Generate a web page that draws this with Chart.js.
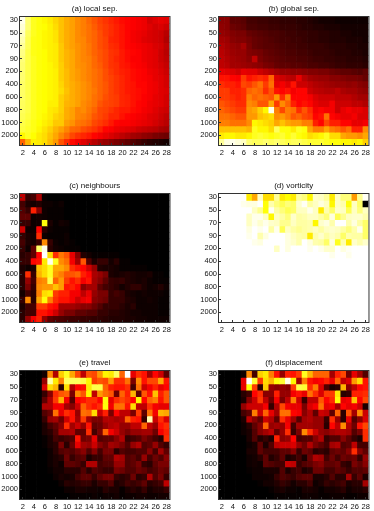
<!DOCTYPE html>
<html>
<head>
<meta charset="utf-8">
<title>Heatmaps</title>
<script src="https://cdn.jsdelivr.net/npm/chart.js@4"></script>
<style>
  html, body { margin: 0; padding: 0; background: #fff; }
  #page { position: relative; width: 374px; height: 511px; overflow: hidden; filter: blur(0.4px); }
  canvas { position: absolute; }
</style>
</head>
<body>
<div id="page"></div>
<script>
// x categories, one column per value
const xLabels = ['2','3','4','5','6','7','8','9','10','11','12','13','14','15','16','17','18','19','20','21','22','23','24','25','26','27','28'];
// y axis only labels every second row
const yLabels = ['30','50','70','90','200','400','600','800','1000','2000'];
const rowCount = 20;

const localSep = [
  [98,86,78,76,74,72,69,66,63,61,58,56,53,50,47,45,43,41,39,38,37,36,35,31,33,34,33],
  [96,86,78,76,75,73,70,66,63,61,58,56,54,51,48,46,44,42,40,38,37,36,35,33,31,32,30],
  [94,84,78,76,74,73,71,66,63,61,58,56,54,52,49,46,44,42,40,38,36,35,34,32,31,30,27],
  [92,83,77,76,74,73,71,66,63,61,58,57,54,52,49,47,43,42,40,38,36,35,33,32,31,30,26],
  [90,83,77,76,74,73,72,67,63,61,59,57,55,52,49,47,44,43,40,38,37,36,35,34,32,31,28],
  [88,82,77,76,75,73,72,67,64,62,59,57,55,52,50,48,45,44,41,39,38,37,35,34,33,30,27],
  [87,82,78,76,75,73,72,67,64,62,59,57,56,53,50,48,45,43,41,39,37,37,35,34,33,30,28],
  [86,82,78,76,75,74,72,68,64,62,59,58,56,53,51,48,45,44,41,40,38,37,36,34,33,31,29],
  [86,82,78,76,75,74,73,68,65,62,60,58,56,54,52,49,46,44,42,41,39,38,37,35,34,32,30],
  [86,82,78,76,75,74,73,68,65,62,60,58,56,54,52,49,47,45,43,41,39,38,37,36,34,33,31],
  [85,82,78,76,75,74,73,69,65,63,61,59,57,54,52,50,47,45,43,41,40,38,38,36,35,33,31],
  [85,82,78,76,75,74,73,70,66,63,61,59,57,55,52,50,47,45,43,41,40,39,38,36,35,33,32],
  [85,82,78,76,75,74,73,68,65,63,61,59,57,54,52,49,47,46,43,42,40,39,37,36,34,33,31],
  [84,82,78,76,75,73,73,68,64,63,61,58,56,54,50,48,47,46,43,42,40,38,37,35,34,33,31],
  [84,82,78,76,75,72,71,68,63,61,57,58,55,52,48,47,45,43,41,41,39,38,36,35,33,31,30],
  [83,81,78,76,74,72,69,67,63,61,57,56,54,50,48,46,43,43,40,38,37,36,35,33,32,30,28],
  [82,80,77,75,73,71,67,67,61,59,55,54,52,48,46,44,41,38,37,37,36,35,34,33,31,29,27],
  [81,79,77,74,71,68,64,61,57,53,52,49,47,45,42,38,37,35,34,33,32,30,29,28,27,25,24],
  [74,78,75,72,70,66,62,57,53,48,45,43,41,38,36,34,32,30,28,26,24,23,21,20,18,17,16],
  [52,64,73,72,70,65,60,50,44,39,36,33,30,27,24,22,20,18,16,14,12,10,8,6,5,4,3]
];
const globalSep = [
  [20,20,14,14,13,10,10,9,9,8,8,7,7,7,6,6,5,4,3,3,3,2,2,2,2,2,2],
  [21,20,16,15,14,11,11,10,10,9,9,8,8,8,7,6,6,5,5,4,4,4,3,3,3,3,3],
  [22,21,19,18,18,15,14,13,12,11,11,10,9,9,8,8,7,7,6,6,5,5,4,4,3,3,3],
  [24,23,20,19,19,17,15,14,13,12,11,10,10,9,9,8,7,7,6,6,5,5,5,4,4,4,3],
  [26,24,22,21,24,18,15,14,13,13,12,11,10,10,9,9,8,8,8,7,6,6,6,5,5,4,4],
  [27,25,23,22,22,19,18,17,15,14,13,12,11,11,10,10,9,8,8,8,7,6,6,6,5,5,4],
  [28,26,24,23,22,20,28,18,16,15,14,13,12,12,11,11,10,9,9,8,8,7,7,6,6,6,5],
  [28,27,24,24,23,22,21,20,18,17,15,14,14,13,13,12,11,11,10,10,9,8,8,7,7,7,6],
  [34,33,32,30,34,33,33,30,28,26,24,22,22,21,21,20,19,19,18,18,16,15,14,14,13,12,14],
  [40,40,38,37,46,40,42,44,42,52,32,30,28,27,34,27,24,23,22,22,20,20,19,18,18,17,15],
  [44,42,42,40,48,46,50,54,46,54,34,36,33,40,30,30,28,26,25,24,23,22,22,21,22,20,19],
  [46,46,42,42,44,52,54,52,44,50,40,38,40,36,38,38,30,28,27,26,26,28,25,24,24,22,21],
  [46,46,44,42,44,56,52,54,52,50,60,44,56,38,38,38,36,32,30,30,30,28,28,28,26,24,24],
  [50,48,46,44,44,58,56,50,50,62,46,58,52,42,38,40,38,34,32,32,36,30,30,30,28,28,26],
  [52,50,48,46,46,60,62,68,74,98,56,48,56,54,44,50,44,36,38,36,36,30,34,36,34,34,32],
  [54,54,52,50,50,60,60,66,68,70,58,60,56,50,52,48,46,38,40,54,38,36,34,34,36,32,32],
  [56,56,54,54,54,58,74,72,70,68,62,66,62,60,60,56,56,42,38,48,42,42,38,38,34,34,36],
  [66,66,66,66,66,64,78,74,74,70,84,76,76,72,78,76,62,56,56,62,56,54,50,54,42,42,58],
  [72,74,74,72,72,74,78,80,78,76,78,80,76,80,76,74,70,72,74,78,70,70,62,60,60,58,62],
  [90,97,98,96,94,86,84,84,86,84,86,84,82,84,84,82,80,80,80,78,76,76,74,74,72,74,68]
];
const neighbours = [
  [28,8,10,25,1,0,0,0,0,0,0,0,0,0,0,0,0,0,0,0,0,0,0,0,0,0,0],
  [10,4,3,5,2,2,1,2,0,0,0,0,0,0,0,0,0,0,0,0,0,0,0,0,0,0,0],
  [12,8,42,20,2,1,1,1,0,0,0,0,0,0,0,0,0,0,0,0,0,0,0,0,0,0,0],
  [14,14,2,3,2,1,1,1,0,0,0,0,0,0,0,0,0,0,0,0,0,0,0,0,0,0,0],
  [8,8,2,3,76,4,1,3,2,0,0,0,0,0,0,0,0,0,0,0,0,0,0,0,0,0,0],
  [30,2,2,38,6,2,1,1,1,0,0,0,0,0,0,0,0,0,0,0,0,0,0,0,0,0,0],
  [8,4,3,44,2,1,1,1,2,0,0,0,0,0,0,0,0,0,0,0,0,0,0,0,0,0,0],
  [10,4,3,8,58,8,2,1,2,1,0,0,0,0,0,0,0,0,0,0,0,0,0,0,0,0,0],
  [8,2,14,85,98,6,3,2,1,1,1,0,0,0,0,0,0,0,0,0,0,0,0,0,0,0,0],
  [6,8,14,38,100,70,44,55,50,34,20,5,3,1,1,1,1,1,0,0,0,0,0,0,0,0,0],
  [8,8,38,40,72,98,78,58,54,36,24,50,12,4,8,8,3,6,1,1,0,0,0,0,0,0,0],
  [4,2,4,66,70,78,62,62,58,44,40,38,30,22,5,4,4,3,1,1,1,1,1,0,0,0,0],
  [6,44,8,64,70,78,60,56,50,50,52,42,38,25,22,18,4,3,4,5,4,3,3,4,1,1,0],
  [6,22,10,56,58,82,52,60,46,40,44,36,40,24,20,14,8,7,8,5,4,3,4,2,1,1,1],
  [6,18,8,58,60,60,66,60,40,42,38,20,24,24,14,10,8,6,3,5,7,7,4,2,3,5,2],
  [3,10,6,56,70,72,46,42,42,36,36,28,34,22,18,18,8,10,8,4,3,2,3,2,2,2,1],
  [8,58,6,62,76,56,44,40,40,36,30,34,36,20,18,16,8,8,8,5,4,2,2,3,2,1,1],
  [4,10,10,46,46,40,38,24,24,24,22,20,20,16,12,8,8,8,6,4,6,2,2,2,2,1,1],
  [6,10,10,40,40,36,30,22,18,18,14,14,12,12,8,8,6,6,5,4,3,3,2,2,2,1,1],
  [6,22,36,42,22,14,12,11,10,9,9,8,8,7,7,6,5,5,5,4,4,3,3,2,2,2,2]
];
const vorticity = [
  [100,100,100,100,100,72,62,94,70,70,90,72,75,72,90,87,74,95,94,90,72,94,87,87,60,89,99],
  [100,100,100,100,98,97,97,100,76,92,87,83,87,85,95,99,91,94,97,94,74,94,92,76,94,85,0],
  [100,100,100,100,100,100,94,89,76,99,91,87,83,85,94,94,98,94,72,92,85,95,94,83,94,87,94],
  [100,100,100,100,100,94,98,98,94,74,94,91,87,95,91,92,94,94,91,87,97,83,89,94,95,95,92],
  [100,100,100,100,100,94,98,95,98,95,94,89,89,94,91,91,92,74,95,97,92,100,100,92,97,91,85],
  [100,100,100,100,100,97,100,98,100,91,98,83,94,91,89,91,92,94,91,94,95,94,91,87,92,98,85],
  [100,100,100,100,100,98,100,92,97,100,100,100,97,94,92,91,72,92,95,91,94,92,85,92,91,91,85],
  [100,100,100,100,100,100,98,97,100,100,100,100,97,95,92,100,97,92,91,85,97,78,92,72,95,92,95],
  [100,100,100,100,100,100,100,100,100,100,94,100,97,100,100,100,98,100,98,95,95,100,97,99,100,100,100],
  [100,100,100,100,100,100,100,100,100,100,100,100,100,100,100,100,100,100,100,100,98,100,100,98,100,100,100],
  [100,100,100,100,100,100,100,100,100,100,100,100,100,100,100,100,100,100,100,100,100,100,100,100,100,100,100],
  [100,100,100,100,100,100,100,100,100,100,100,100,100,100,100,100,100,100,100,100,100,100,100,100,100,100,100],
  [100,100,100,100,100,100,100,100,100,100,100,100,100,100,100,100,100,100,100,100,100,100,100,100,100,100,100],
  [100,100,100,100,100,100,100,100,100,100,100,100,100,100,100,100,100,100,100,100,100,100,100,100,100,100,100],
  [100,100,100,100,100,100,100,100,100,100,100,100,100,100,100,100,100,100,100,100,100,100,100,100,100,100,100],
  [100,100,100,100,100,100,100,100,100,100,100,100,100,100,100,100,100,100,100,100,100,100,100,100,100,100,100],
  [100,100,100,100,100,100,100,100,100,100,100,100,100,100,100,100,100,100,100,100,100,100,100,100,100,100,100],
  [100,100,100,100,100,100,100,100,100,100,100,100,100,100,100,100,100,100,100,100,100,100,100,100,100,100,100],
  [100,100,100,100,100,100,100,100,100,100,100,100,100,100,100,100,100,100,100,100,100,100,100,100,100,100,100],
  [100,100,100,100,100,100,100,100,100,100,100,100,100,100,100,100,100,100,100,100,100,100,100,100,100,100,100]
];
const travel = [
  [0,0,0,0,3,58,26,68,78,62,48,28,50,48,60,74,72,84,52,100,34,44,40,24,38,30,14],
  [0,0,0,0,22,92,72,56,84,84,84,82,74,46,50,48,60,44,44,54,18,58,40,48,48,62,40],
  [0,0,0,0,32,70,64,6,70,26,38,40,72,82,82,52,42,40,40,44,10,54,30,36,42,34,38],
  [0,0,0,0,8,20,44,50,52,18,58,50,74,28,60,54,50,16,52,42,64,14,50,40,66,42,50],
  [0,0,0,0,14,26,46,64,36,12,38,40,44,44,38,76,34,44,48,44,38,74,38,52,56,40,50],
  [0,0,0,0,26,26,36,36,24,20,30,52,44,40,44,76,36,54,54,40,70,28,28,44,36,34,34],
  [0,0,0,0,12,16,54,34,44,40,22,54,52,70,30,42,18,38,28,28,18,46,14,54,36,64,62],
  [0,0,0,0,8,22,24,16,30,40,24,46,24,18,18,26,26,24,26,52,42,40,8,92,30,44,32],
  [0,0,0,0,4,10,14,20,44,24,30,22,40,14,16,22,26,28,22,22,28,28,52,28,22,40,44],
  [0,0,0,0,4,6,12,24,24,26,14,14,44,10,18,52,36,30,22,18,22,22,24,24,16,36,42],
  [0,0,0,0,1,4,10,8,10,12,40,16,18,34,12,14,14,20,26,8,10,12,18,14,10,6,44],
  [0,0,0,0,1,4,6,18,6,16,34,24,22,30,20,16,24,22,18,12,22,26,12,14,22,12,8],
  [0,0,0,0,0,2,6,12,14,12,16,20,12,20,10,18,18,6,12,10,10,12,12,20,10,24,14],
  [0,0,0,0,0,2,4,6,16,8,12,14,4,8,8,14,14,26,24,12,14,10,22,10,16,12,20],
  [0,0,0,0,0,2,4,2,14,14,12,8,26,26,10,12,12,22,22,12,14,18,8,6,14,18,18],
  [0,0,0,0,0,1,3,3,6,6,6,12,6,12,10,8,8,18,16,12,12,16,14,10,12,16,14],
  [0,0,0,0,0,0,2,4,3,4,10,14,14,8,14,18,18,8,6,8,16,6,8,26,12,18,8],
  [0,0,0,0,0,0,0,2,6,5,6,8,8,4,8,8,12,4,6,10,8,10,14,6,8,10,28],
  [0,0,0,0,0,0,0,0,2,2,4,4,3,3,2,6,4,4,1,4,6,4,8,3,5,5,8],
  [0,0,0,0,0,0,0,0,0,1,1,1,1,2,1,2,2,3,1,2,2,3,3,2,2,3,3]
];
const displacement = [
  [0,0,0,0,2,58,10,68,72,56,40,22,42,40,46,78,64,52,52,52,24,42,48,16,34,24,12],
  [0,0,0,0,34,100,80,46,70,64,76,80,98,74,24,56,40,36,38,42,34,52,28,32,60,70,40],
  [0,0,0,0,34,76,46,6,68,22,20,22,20,46,82,80,44,56,32,12,4,6,64,20,28,38,40],
  [0,0,0,0,6,10,38,44,20,20,42,22,22,36,40,34,54,44,32,46,46,72,6,8,42,42,44],
  [0,0,0,0,4,20,30,46,28,16,36,18,28,56,30,8,28,28,50,38,44,76,34,36,66,38,48],
  [0,0,0,0,22,30,30,30,36,8,26,48,36,34,34,18,32,36,54,34,36,24,38,34,36,30,4],
  [0,0,0,0,10,14,56,30,52,34,24,54,54,38,36,20,26,14,30,28,14,52,6,50,24,58,30],
  [0,0,0,0,4,28,20,14,30,26,14,44,34,24,12,24,26,22,22,8,44,22,6,34,12,20,32],
  [0,0,0,0,2,6,14,20,52,22,24,22,36,10,24,24,24,22,22,6,38,28,58,26,16,40,48],
  [0,0,0,0,2,4,12,20,24,28,14,22,44,8,18,58,44,30,22,20,24,26,26,24,12,18,44],
  [0,0,0,0,0,4,12,5,8,4,42,20,22,38,10,12,12,20,26,8,12,12,20,14,8,4,44],
  [0,0,0,0,0,2,4,14,4,12,28,30,30,32,22,16,26,18,14,10,24,26,12,14,28,10,10],
  [0,0,0,0,0,4,4,14,10,10,10,14,14,20,8,16,14,6,8,6,14,16,14,20,44,20,14],
  [0,0,0,0,0,2,3,6,14,5,8,14,4,6,10,4,16,26,24,10,16,10,16,14,16,8,22],
  [0,0,0,0,0,2,3,2,14,12,10,10,30,28,8,12,14,18,20,14,14,16,8,6,18,14,20],
  [0,0,0,0,0,1,2,2,4,4,4,12,4,8,10,4,6,16,16,10,10,14,12,8,12,12,14],
  [0,0,0,0,0,0,2,2,2,3,8,12,10,8,12,14,14,4,4,6,12,6,6,24,8,14,4],
  [0,0,0,0,0,0,0,1,3,3,5,8,6,3,6,6,10,2,4,8,6,8,10,4,6,6,24],
  [0,0,0,0,0,0,0,0,0,1,3,4,2,2,1,4,4,3,1,3,3,4,6,2,4,4,6],
  [0,0,0,0,0,0,0,0,0,0,1,1,1,1,1,2,2,2,1,1,2,2,2,1,1,2,2]
];

[localSep, globalSep, neighbours, vorticity, travel, displacement].forEach(m => {
  if (m.length !== rowCount || m.some(r => r.length !== xLabels.length)) {
    throw new Error('bad matrix size: ' + m.map(r => r.length).join(','));
  }
});

const tickFont = { family: '"Liberation Sans", Arial, sans-serif', size: 7.5 };
const titleFont = { family: '"Liberation Sans", Arial, sans-serif', size: 8, weight: 'normal' };

// matlab style hot colormap
function hot(v) {
  const t = v / 100;
  const clamp = n => Math.max(0, Math.min(1, n));
  const r = clamp(t / 0.375);
  const g = clamp((t - 0.375) / 0.375);
  const b = clamp((t - 0.75) / 0.25);
  return `rgb(${Math.round(r * 255)},${Math.round(g * 255)},${Math.round(b * 255)})`;
}

const framePlugin = {
  id: 'frame',
  afterDraw(chart) {
    const a = chart.chartArea;
    const c = chart.ctx;
    c.save();
    c.strokeStyle = '#333';
    c.lineWidth = 1;
    c.strokeRect(a.left - 0.5, a.top - 0.5, a.right - a.left + 1, a.bottom - a.top + 1);
    c.restore();
  }
};

function drawPanel(title, matrix, left, top) {
  const canvas = document.createElement('canvas');
  canvas.width = 176;
  canvas.height = 159;
  canvas.style.left = left + 'px';
  canvas.style.top = top + 'px';
  document.getElementById('page').appendChild(canvas);

  // one stacked dataset per row, top row first because y is reversed
  const datasets = matrix.map(row => ({
    data: row.map(() => 1),
    backgroundColor: row.map(hot),
    borderWidth: 0,
    barPercentage: 1,
    categoryPercentage: 1
  }));

  new Chart(canvas, {
    type: 'bar',
    data: { labels: xLabels, datasets },
    plugins: [framePlugin],
    options: {
      responsive: false,
      animation: false,
      events: [],
      layout: { autoPadding: false, padding: { right: 5 } },
      plugins: {
        legend: { display: false },
        tooltip: { enabled: false },
        title: {
          display: true,
          text: title,
          color: '#111',
          fullSize: false,
          font: titleFont,
          padding: { top: 3.7, bottom: 3.7 }
        }
      },
      scales: {
        x: {
          stacked: true,
          border: { display: false },
          grid: { display: true, drawOnChartArea: false, offset: false, tickLength: -2, tickColor: '#333', z: 1 },
          ticks: { autoSkip: false, maxRotation: 0, minRotation: 0, padding: 5, color: '#111', font: tickFont },
          afterBuildTicks: s => { s.ticks = s.ticks.filter(t => t.value % 2 === 0); },
          afterFit: s => { s.height = 14; }
        },
        y: {
          stacked: true,
          reverse: true,
          min: 0,
          max: rowCount,
          border: { display: false },
          grid: { display: true, drawOnChartArea: false, tickLength: -2, tickColor: '#333', z: 1 },
          ticks: {
            autoSkip: false,
            padding: 4,
            color: '#111',
            font: tickFont,
            callback: v => yLabels[(v - 0.5) / 2]
          },
          afterBuildTicks: s => { s.ticks = yLabels.map((_, i) => ({ value: i * 2 + 0.5 })); },
          afterFit: s => { s.width = 20; }
        }
      }
    }
  });
}

drawPanel('(a) local sep.', localSep, 0, 0);
drawPanel('(b) global sep.', globalSep, 199, 0);
drawPanel('(c) neighbours', neighbours, 0, 177);
drawPanel('(d) vorticity', vorticity, 199, 177);
drawPanel('(e) travel', travel, 0, 354);
drawPanel('(f) displacement', displacement, 199, 354);
</script>
</body>
</html>
